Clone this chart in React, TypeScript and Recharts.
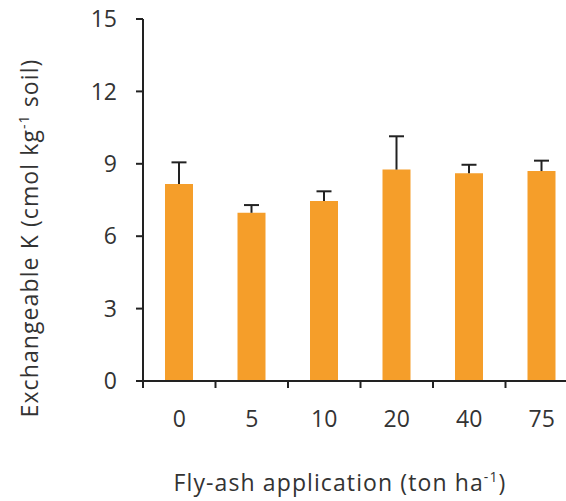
import React from "react";
import { BarChart, Bar, XAxis, YAxis, ErrorBar, Label } from "recharts";

const rates = ["0", "5", "10", "20", "40", "75"];
const exchK = [8.16, 6.97, 7.46, 8.76, 8.61, 8.7];
const exchKErr = [0.9, 0.32, 0.4, 1.38, 0.35, 0.43];
const yTicks = [0, 3, 6, 9, 12, 15];

const data = rates.map((rate, i) => ({
  rate,
  k: exchK[i],
  err: [0, exchKErr[i]],
}));

const FONT = "'Open Sans', sans-serif";
const TEXT = "#333";
const AXIS = "#222";
const X_TICK_GAP = 30;

// label under the bar, tick mark on the left edge of the category band
const RateTick = (props: any) => {
  const { x, y, payload } = props;
  const edge = x - (payload.offset || 0);
  const axisY = y - X_TICK_GAP;
  return (
    <g>
      <line x1={edge} x2={edge} y1={axisY} y2={axisY + 7} stroke={AXIS} strokeWidth={2} />
      <text
        x={x}
        y={y}
        dy="0.71em"
        textAnchor="middle"
        fontFamily={FONT}
        fontSize={23}
        fill={TEXT}
      >
        {payload.value}
      </text>
    </g>
  );
};

// axis titles sit off-centre in the original, so they get their own spot
const XTitle = () => (
  <text
    x={340}
    y={491}
    textAnchor="middle"
    fontFamily={FONT}
    fontSize={23}
    letterSpacing={1.1}
    fill={TEXT}
  >
    Fly-ash application (ton ha
    <tspan dy={-9} fontSize={14}>-1</tspan>
    <tspan dy={9}>)</tspan>
  </text>
);

const YTitle = () => {
  const cx = 38;
  const cy = 238;
  return (
    <text
      x={cx}
      y={cy}
      transform={`rotate(-90, ${cx}, ${cy})`}
      textAnchor="middle"
      fontFamily={FONT}
      fontSize={23}
      letterSpacing={1.1}
      fill={TEXT}
    >
      Exchangeable K (cmol kg
      <tspan dy={-9} fontSize={14}>-1</tspan>
      <tspan dy={9}> soil)</tspan>
    </text>
  );
};

const App = () => {
  return (
    <div style={{ width: 566, height: 501, overflow: "hidden" }}>
      <style>{`body{margin:0;overflow:hidden}.recharts-errorBar line:last-child{display:none}`}</style>
      <BarChart
        width={580}
        height={501}
        data={data}
        margin={{ top: 19, right: 2, bottom: 0, left: 0 }}
      >
        <XAxis
          dataKey="rate"
          height={120}
          axisLine={{ stroke: AXIS, strokeWidth: 2 }}
          tickLine={false}
          tickSize={0}
          tickMargin={X_TICK_GAP}
          tick={<RateTick />}
        >
          <Label content={XTitle} />
        </XAxis>
        <YAxis
          width={143}
          domain={[0, 15]}
          ticks={yTicks}
          tickSize={7}
          tickMargin={19}
          axisLine={{ stroke: AXIS, strokeWidth: 2 }}
          tickLine={{ stroke: AXIS, strokeWidth: 2 }}
          tick={{ fontFamily: FONT, fontSize: 23, fill: TEXT }}
        >
          <Label content={YTitle} />
        </YAxis>
        <Bar dataKey="k" fill="#F59E2A" barSize={28} isAnimationActive={false}>
          <ErrorBar
            dataKey="err"
            direction="y"
            width={7.5}
            stroke={AXIS}
            strokeWidth={2}
          />
        </Bar>
      </BarChart>
    </div>
  );
};

export default App;
